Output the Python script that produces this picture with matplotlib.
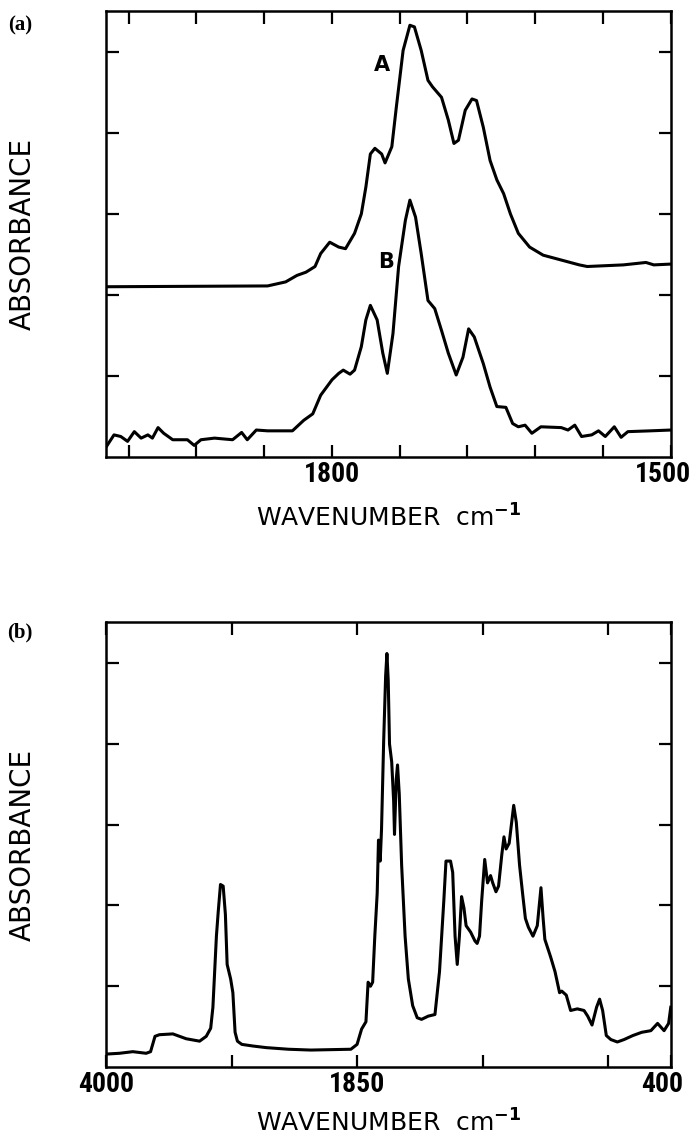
import numpy as np
import matplotlib.pyplot as plt
from matplotlib.transforms import ScaledTranslation

# ---- panel (a): 2000-1500 cm-1, two spectra A and B ----
wn_a = [2000, 1857, 1841, 1831, 1823, 1815, 1810, 1802, 1794, 1788, 1780, 1774,
        1770, 1766, 1762, 1756, 1753, 1747, 1743, 1737, 1731, 1727, 1721, 1715,
        1711, 1703, 1697, 1692, 1688, 1682, 1676, 1672, 1666, 1660, 1654, 1648,
        1642, 1635, 1625, 1613, 1597, 1581, 1574, 1542, 1522, 1515, 1500]
abs_a = [2.10, 2.11, 2.16, 2.24, 2.28, 2.35, 2.51, 2.65, 2.59, 2.57, 2.76, 3.00,
         3.33, 3.74, 3.81, 3.74, 3.63, 3.83, 4.32, 5.02, 5.33, 5.31, 5.02, 4.65,
         4.57, 4.44, 4.16, 3.87, 3.91, 4.28, 4.42, 4.40, 4.07, 3.66, 3.42, 3.25,
         3.00, 2.76, 2.59, 2.49, 2.43, 2.37, 2.35, 2.37, 2.40, 2.37, 2.38]

wn_b = [2000, 1993, 1987, 1981, 1975, 1969, 1963, 1959, 1954, 1949, 1941, 1934,
        1928, 1922, 1916, 1904, 1888, 1880, 1875, 1867, 1857, 1835, 1825, 1817,
        1810, 1800, 1794, 1790, 1784, 1780, 1774, 1770, 1766, 1760, 1755, 1751,
        1746, 1741, 1735, 1731, 1726, 1721, 1715, 1709, 1703, 1697, 1690, 1684,
        1679, 1674, 1666, 1660, 1654, 1646, 1640, 1635, 1629, 1623, 1615, 1597,
        1591, 1585, 1579, 1570, 1564, 1558, 1550, 1544, 1538, 1518, 1500]
abs_b = [0.12, 0.27, 0.25, 0.19, 0.31, 0.23, 0.27, 0.23, 0.36, 0.29, 0.21, 0.21,
         0.21, 0.14, 0.21, 0.23, 0.21, 0.30, 0.21, 0.33, 0.32, 0.32, 0.45, 0.53,
         0.76, 0.95, 1.03, 1.07, 1.02, 1.07, 1.36, 1.69, 1.87, 1.69, 1.28, 1.03,
         1.52, 2.35, 2.92, 3.17, 2.96, 2.51, 1.93, 1.83, 1.56, 1.28, 1.01, 1.23,
         1.58, 1.48, 1.15, 0.86, 0.62, 0.61, 0.41, 0.37, 0.39, 0.29, 0.37, 0.36,
         0.33, 0.39, 0.25, 0.27, 0.32, 0.25, 0.37, 0.24, 0.31, 0.32, 0.33]

# ---- panel (b): full 4000-400 cm-1 spectrum ----
wn_full = [4000, 3886, 3771, 3657, 3619, 3581, 3543, 3428, 3390, 3314, 3199, 3142,
           3104, 3085, 3055, 3039, 3020, 2997, 2978, 2963, 2933, 2914, 2895, 2875,
           2837, 2742, 2628, 2437, 2246, 1903, 1850, 1829, 1809, 1799, 1788, 1778,
           1768, 1757, 1751, 1743, 1737, 1727, 1718, 1712, 1706, 1700, 1690, 1681,
           1677, 1669, 1663, 1655, 1644, 1628, 1613, 1593, 1572, 1552, 1521, 1490,
           1469, 1449, 1439, 1418, 1408, 1397, 1387, 1377, 1367, 1356, 1346, 1325,
           1305, 1295, 1284, 1274, 1260, 1247, 1233, 1223, 1208, 1196, 1181, 1171,
           1161, 1147, 1126, 1114, 1099, 1085, 1072, 1058, 1037, 1017, 1000, 990,
           982, 955, 935, 914, 904, 883, 863, 832, 801, 784, 764, 743,
           729, 715, 698, 677, 647, 616, 575, 534, 492, 461, 431, 410, 400]
abs_full = [0.16, 0.17, 0.19, 0.17, 0.19, 0.38, 0.40, 0.41, 0.39, 0.35, 0.32, 0.38,
            0.48, 0.74, 1.62, 1.93, 2.26, 2.24, 1.89, 1.27, 1.09, 0.92, 0.43, 0.32,
            0.28, 0.26, 0.24, 0.22, 0.21, 0.22, 0.28, 0.47, 0.56, 1.05, 1.00, 1.05,
            1.62, 2.15, 2.81, 2.55, 2.94, 4.04, 4.84, 5.12, 4.79, 4.00, 3.78, 3.30,
            2.88, 3.56, 3.74, 3.38, 2.50, 1.62, 1.09, 0.76, 0.61, 0.59, 0.63, 0.65,
            1.18, 2.06, 2.55, 2.55, 2.41, 1.62, 1.27, 1.62, 2.11, 1.97, 1.75, 1.67,
            1.56, 1.53, 1.62, 2.06, 2.57, 2.28, 2.37, 2.28, 2.17, 2.24, 2.63, 2.85,
            2.70, 2.77, 3.24, 3.03, 2.50, 2.15, 1.84, 1.73, 1.62, 1.75, 2.22, 1.84,
            1.58, 1.36, 1.18, 0.92, 0.94, 0.89, 0.70, 0.72, 0.70, 0.63, 0.52, 0.74,
            0.84, 0.70, 0.39, 0.34, 0.31, 0.34, 0.39, 0.43, 0.45, 0.54, 0.45, 0.54, 0.74]

ticks_a = [1980, 1920, 1860, 1800, 1740, 1680, 1620, 1560, 1500]
ticklabels_a = ['', '', '', '1800', '', '', '', '', '1500']
ticks_b = [4000, 2925, 1850, 1270, 690, 400]
ticklabels_b = ['4000', '', '1850', '', '', '400']
yticks = [1, 2, 3, 4, 5]


# spectrometer axis: scale changes at 1850 cm-1 (increasing map, axis inverted)
def fwd(w):
    w = np.asarray(w, dtype=float)
    return np.where(w >= 1850, (w - 4000) / 1075.0, -2 - (1850 - w) / 580.0)


def inv(p):
    p = np.asarray(p, dtype=float)
    return np.where(p >= -2, 4000 + p * 1075.0, 1850 + (p + 2) * 580.0)


tick_font = ['Roboto Condensed', 'Open Sans Condensed', 'DejaVu Sans']
label_font = ['DejaVu Sans']

fig = plt.figure(figsize=(6.98, 11.39), dpi=100)
ax_a = fig.add_axes([0.152, 0.599, 0.809, 0.3916])
ax_b = fig.add_axes([0.152, 0.0632, 0.809, 0.3907])


def style_axes(ax, xticks, xticklabels, xpad):
    ax.set_xticks(xticks)
    ax.set_xticklabels(xticklabels, family=tick_font, fontsize=20, fontweight='bold')
    ax.set_yticks(yticks)
    ax.set_yticklabels([])
    ax.tick_params(direction='in', top=True, right=True, length=9, width=1.6,
                   pad=3, color='black')
    for sp in ax.spines.values():
        sp.set_linewidth(1.8)
    ax.set_ylim(0, 5.51)
    ax.set_xlabel(r'WAVENUMBER  cm$^{\mathbf{-1}}$', family=label_font,
                  fontsize=18, labelpad=xpad)
    ax.set_ylabel('ABSORBANCE', family=label_font, fontsize=20, labelpad=47)
    # keep the right-edge label inside the figure
    last = ax.get_xticklabels()[-1]
    last.set_transform(last.get_transform() +
                       ScaledTranslation(-6 / 72, 0, fig.dpi_scale_trans))


ax_a.plot(wn_a, abs_a, color='black', lw=2.2, solid_joinstyle='round')
ax_a.plot(wn_b, abs_b, color='black', lw=2.2, solid_joinstyle='round')
ax_a.set_xlim(2000, 1500)
style_axes(ax_a, ticks_a, ticklabels_a, 12)
ax_a.text(1756, 4.84, 'A', fontsize=15, fontweight='bold', family=label_font,
          ha='center', va='center')
ax_a.text(1752, 2.41, 'B', fontsize=15, fontweight='bold', family=label_font,
          ha='center', va='center')

ax_b.set_xscale('function', functions=(fwd, inv))
ax_b.plot(wn_full, abs_full, color='black', lw=2.2, solid_joinstyle='round')
ax_b.set_xlim(4000, 400)
style_axes(ax_b, ticks_b, ticklabels_b, 8)

fig.text(0.029, 0.978, '(a)', family='Liberation Serif', fontweight='bold',
         fontsize=15, ha='center', va='center')
fig.text(0.029, 0.445, '(b)', family='Liberation Serif', fontweight='bold',
         fontsize=15, ha='center', va='center')

fig.savefig('out.png', dpi=100)
